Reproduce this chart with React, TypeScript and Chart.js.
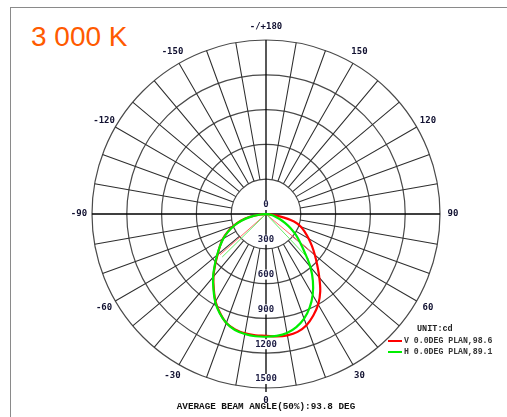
import React, { useEffect, useRef } from "react";
import { Chart, registerables } from "chart.js";

Chart.register(...registerables);

// ---- data ----
const anglesDeg = [
  -90, -85, -80, -75, -70, -65, -60, -55, -50, -45, -40, -35, -30, -25, -20, -15, -10, -5,
  0, 5, 10, 15, 20, 25, 30, 35, 40, 45, 50, 55, 60, 65, 70, 75, 80, 85, 90,
];
const vPlaneCd = [
  0, 50, 140, 225, 295, 365, 430, 485, 545, 620, 705, 785, 870, 940, 1000, 1030, 1045, 1050,
  1050, 1060, 1062, 1052, 1020, 965, 900, 815, 715, 625, 550, 485, 425, 370, 320, 250, 120, 20, 0,
];
const hPlaneCd = [
  0, 45, 130, 215, 290, 360, 425, 485, 550, 625, 710, 790, 875, 945, 1000, 1035, 1050, 1058,
  1058, 1055, 1042, 1010, 960, 890, 805, 705, 595, 475, 385, 315, 245, 180, 125, 80, 40, 12, 0,
];
const vBeamAngles = [-48.5, 0, 50.1];
const vBeamCd = [530, 0, 530];
const hBeamAngles = [-45.5, 0, 43.6];
const hBeamCd = [529, 0, 529];

const ringCd = [300, 600, 900, 1200, 1500];
const radialTickValues = [0, 300, 600, 900, 1200, 1500];
const radialTickLabels = ["0", "300", "600", "900", "1200", "1500"];
const angleTickValues = [180, 150, 120, 90, 60, 30, 0, -30, -60, -90, -120, -150];
const angleTickLabels = ["-/+180", "150", "120", "90", "60", "30", "0", "-30", "-60", "-90", "-120", "-150"];

const legendLabels = ["V 0.0DEG PLAN,98.6", "H 0.0DEG PLAN,89.1"];
const legendColors = ["#ff0000", "#00ee00"];
const unitLabel = "UNIT:cd";
const footerText = "AVERAGE BEAM ANGLE(50%):93.8 DEG";
const titleText = "3 000 K";

function toXY(angles: number[], values: number[]) {
  return angles.map((a, i) => {
    const t = (a * Math.PI) / 180;
    return { x: values[i] * Math.sin(t), y: -values[i] * Math.cos(t) };
  });
}

const polarPlugin = {
  id: "polarGrid",
  beforeDatasetsDraw(chart: any) {
    const { ctx } = chart;
    const xs = chart.scales.x;
    const ys = chart.scales.y;
    const cx = xs.getPixelForValue(0);
    const cy = ys.getPixelForValue(0);
    const rp = (v: number) => xs.getPixelForValue(v) - cx;
    const pt = (deg: number, r: number) => {
      const t = (deg * Math.PI) / 180;
      return [cx + r * Math.sin(t), cy + r * Math.cos(t)];
    };
    ctx.save();
    ctx.lineWidth = 1.2;
    ctx.strokeStyle = "#4a4a4a";
    for (const v of ringCd) {
      ctx.beginPath();
      ctx.arc(cx, cy, rp(v), 0, Math.PI * 2);
      ctx.stroke();
    }
    const r0 = rp(ringCd[0]);
    const r1 = rp(ringCd[ringCd.length - 1]);
    ctx.strokeStyle = "#2e2e2e";
    ctx.lineWidth = 1.05;
    ctx.beginPath();
    for (let a = 0; a < 360; a += 10) {
      if (a % 90 === 0) continue;
      const [x0, y0] = pt(a, r0);
      const [x1, y1] = pt(a, r1);
      ctx.moveTo(x0, y0);
      ctx.lineTo(x1, y1);
    }
    ctx.stroke();
    ctx.strokeStyle = "#000";
    ctx.lineWidth = 1.3;
    ctx.beginPath();
    ctx.moveTo(cx - r1, cy);
    ctx.lineTo(cx + r1, cy);
    ctx.moveTo(cx, cy - r1);
    ctx.lineTo(cx, cy + r1 + 4);
    ctx.stroke();

    // radial labels
    ctx.font = 'bold 9px "DejaVu Sans Mono"';
    ctx.textAlign = "center";
    ctx.textBaseline = "middle";
    radialTickValues.forEach((v, i) => {
      const label = radialTickLabels[i];
      const y = cy + rp(v) - 9;
      const w = ctx.measureText(label).width;
      ctx.fillStyle = "#ffffff";
      ctx.fillRect(cx - w / 2 - 1, y - 5, w + 2, 10);
      ctx.fillStyle = "#1c1c44";
      ctx.fillText(label, cx, y);
    });

    // angle labels
    const rl = r1 + 13;
    ctx.fillStyle = "#101030";
    angleTickValues.forEach((a, i) => {
      const [x, y] = pt(a, rl);
      ctx.fillText(angleTickLabels[i], x, y);
    });
    ctx.restore();
  },
  afterDraw(chart: any) {
    const { ctx } = chart;
    ctx.save();
    ctx.textBaseline = "middle";
    ctx.textAlign = "left";
    ctx.fillStyle = "#222";
    ctx.font = 'bold 8.5px "Liberation Mono"';
    ctx.fillText(unitLabel, 417, 329);
    ctx.font = 'bold 8.2px "Liberation Mono"';
    legendLabels.forEach((lab, i) => {
      const y = 341 + i * 11;
      ctx.strokeStyle = legendColors[i];
      ctx.lineWidth = 2;
      ctx.beginPath();
      ctx.moveTo(388, y);
      ctx.lineTo(402, y);
      ctx.stroke();
      ctx.fillStyle = "#333";
      ctx.fillText(lab, 404, y);
    });
    ctx.font = 'bold 9.3px "Liberation Mono"';
    ctx.textAlign = "center";
    ctx.fillStyle = "#111";
    ctx.fillText(footerText, 266, 406.5);
    ctx.restore();
  },
};

export default function App() {
  const canvasRef = useRef<HTMLCanvasElement | null>(null);

  useEffect(() => {
    if (!canvasRef.current) return;
    const chart = new Chart(canvasRef.current, {
      type: "scatter",
      data: {
        datasets: [
          {
            label: legendLabels[1],
            data: toXY(anglesDeg, hPlaneCd),
            showLine: true,
            borderColor: "#00ee00",
            borderWidth: 2.2,
            pointRadius: 0,
            tension: 0.35,
            order: 0,
          },
          {
            label: legendLabels[0],
            data: toXY(anglesDeg, vPlaneCd),
            showLine: true,
            borderColor: "#ff0000",
            borderWidth: 2.2,
            pointRadius: 0,
            tension: 0.35,
            order: 1,
          },
          {
            label: "H beam",
            data: toXY(hBeamAngles, hBeamCd),
            showLine: true,
            borderColor: "#66ee66",
            borderWidth: 1,
            pointRadius: 0,
            tension: 0,
            order: 2,
          },
          {
            label: "V beam",
            data: toXY(vBeamAngles, vBeamCd),
            showLine: true,
            borderColor: "#ff6a6a",
            borderWidth: 1,
            pointRadius: 0,
            tension: 0,
            order: 3,
          },
        ],
      },
      options: {
        animation: false,
        responsive: false,
        events: [],
        layout: { padding: { left: 92, right: 67, top: 40, bottom: 29 }, autoPadding: false },
        scales: {
          x: { type: "linear", min: -1500, max: 1500, display: false },
          y: { type: "linear", min: -1500, max: 1500, display: false },
        },
        plugins: { legend: { display: false }, tooltip: { enabled: false }, title: { display: false } },
      } as any,
      plugins: [polarPlugin],
    });
    return () => chart.destroy();
  }, []);

  return (
    <div style={{ position: "absolute", left: 0, top: 0, width: 507, height: 417, background: "#fff", overflow: "hidden" }}>
      <div
        style={{
          position: "absolute",
          left: 10,
          top: 7,
          right: 0,
          bottom: 0,
          borderLeft: "1.5px solid #8a8a8a",
          borderTop: "1.5px solid #8a8a8a",
        }}
      />
      <div
        style={{
          position: "absolute",
          left: 31,
          top: 23,
          font: '28px "Liberation Sans", Arial, sans-serif',
          lineHeight: "28px",
          color: "#ff5a00",
          whiteSpace: "nowrap",
        }}
      >
        {titleText}
      </div>
      <canvas ref={canvasRef} width={507} height={417} style={{ position: "absolute", left: 0, top: 0, display: "block" }} />
    </div>
  );
}
